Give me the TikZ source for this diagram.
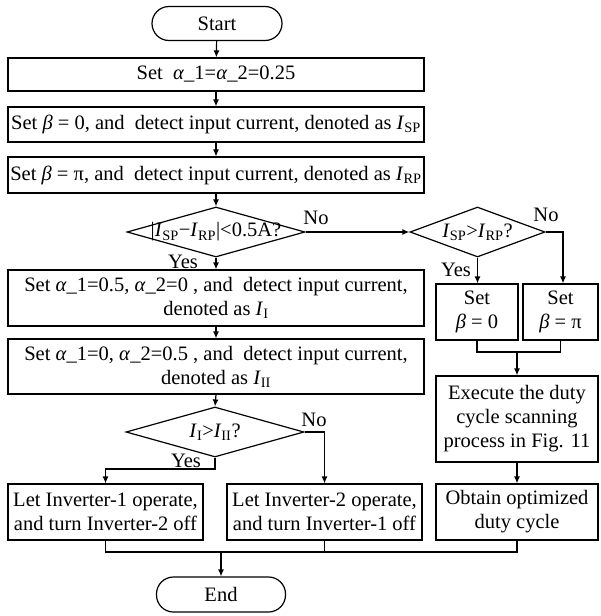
\documentclass[tikz,border=0pt]{standalone}
\usepackage{fontspec}
\setmainfont{Liberation Serif}
\usetikzlibrary{shapes.geometric,arrows.meta}
\tikzset{
  every node/.style={font=\fontsize{20.5}{24}\selectfont, inner sep=0pt},
  line/.style={line width=1.2pt},
  arr/.style={line width=1.2pt,-{Latex[length=7pt,width=6pt]}},
  stepbox/.style={draw, line width=1.2pt, rectangle, align=center},
  term/.style={draw, line width=1.2pt, rectangle, rounded corners=17pt},
  dia/.style={draw, line width=1.2pt, diamond},
  lab/.style={}
}
\newcommand{\al}{\textit{α}}
\newcommand{\be}{\textit{β}}
\newcommand{\Ii}[1]{\textit{I}\textsubscript{#1}}
\begin{document}
\begin{tikzpicture}[x=1pt,y=-1pt]
\useasboundingbox (0,0) rectangle (600,616);
% left column
\node[term, minimum width=130, minimum height=34] (start) at (217,23.5) {Start};
\node[stepbox, minimum width=416, minimum height=33] (b1) at (216,74.5) {Set \ \al\_1=\al\_2=0.25};
\node[stepbox, minimum width=416, minimum height=35] (b2) at (216,124.5) {Set \be{} = 0, and \ detect input current, denoted as \Ii{SP}};
\node[stepbox, minimum width=416, minimum height=36] (b3) at (216,175) {Set \be{} = π, and \ detect input current, denoted as \Ii{RP}};
\node[dia, minimum width=178, minimum height=50] (d1) at (216,232) {};
\node at (d1) {|\Ii{SP}−\Ii{RP}|<0.5A?};
\node[stepbox, minimum width=416, minimum height=56] (b4) at (216,298) {Set \al\_1=0.5, \al\_2=0 , and \ detect input current,\\ denoted as \Ii{I}};
\node[stepbox, minimum width=416, minimum height=55] (b5) at (216,366.5) {Set \al\_1=0, \al\_2=0.5 , and \ detect input current,\\ denoted as \Ii{II}};
\node[dia, minimum width=178, minimum height=50] (d3) at (215,432) {};
\node at (d3) {\Ii{I}>\Ii{II}?};
\node[stepbox, minimum width=195, minimum height=56] (b6) at (105.5,512) {Let Inverter-1 operate,\\ and turn Inverter-2 off};
\node[stepbox, minimum width=195, minimum height=56] (b7) at (324.5,512) {Let Inverter-2 operate,\\ and turn Inverter-1 off};
\node[term, minimum width=129, minimum height=35] (end) at (221,594.5) {End};
% right column
\node[dia, minimum width=135, minimum height=50] (d2) at (477.5,232) {};
\node at (d2) {\Ii{SP}>\Ii{RP}?};
\node[stepbox, minimum width=82, minimum height=56] (s0) at (477,312) {Set\\ \be{} = 0};
\node[stepbox, minimum width=75, minimum height=56] (spi) at (560.5,312) {Set\\ \be{} = π};
\node[stepbox, minimum width=162, minimum height=86] (ex) at (517,419) {Execute the duty\\ cycle scanning\\ process in Fig. 11};
\node[stepbox, minimum width=162, minimum height=56] (ob) at (517,512) {Obtain optimized\\ duty cycle};
% labels
\node[lab] (n1) at (316,218) {No};
\node[lab] (y1) at (183,262) {Yes};
\node[lab] (n2) at (546,215) {No};
\node[lab] (y2) at (456,270) {Yes};
\node[lab] (n3) at (314,420) {No};
\node[lab] (y3) at (186,461) {Yes};
% helper coordinates
\coordinate (m2) at (517,352);
\coordinate (m3) at (221,552);
\coordinate (yj) at (0,469);
% connectors
\draw[arr] (start) -- (b1);
\draw[arr] (b1) -- (b2);
\draw[arr] (b2) -- (b3);
\draw[arr] (b3.south) -- (d1.north);
\draw[arr] (d1.south) -- (b4.north);
\draw[arr] (b4) -- (b5);
\draw[arr] (b5.south) -- (d3.north);
\draw[arr] (d1.east) -- (d2.west);
\draw[arr] (d2.south) -- (d2.south |- s0.north);
\draw[arr] (d2.east) -| ([xshift=2.5pt]spi.north);
\draw[line] (s0.south) |- (m2) -| (spi.south);
\draw[arr] (m2) -- (ex.north);
\draw[arr] (ex) -- (ob);
\draw[arr] (d3.south) -- (d3.south |- yj) -| (b6.north);
\draw[arr] (d3.east) -| (b7.north);
\draw[line] (b6.south) |- (ob.south |- m3) -- (ob.south);
\draw[line] (b7.south) -- (b7.south |- m3);
\draw[arr] (m3) -- (end.north);
\end{tikzpicture}
\end{document}
